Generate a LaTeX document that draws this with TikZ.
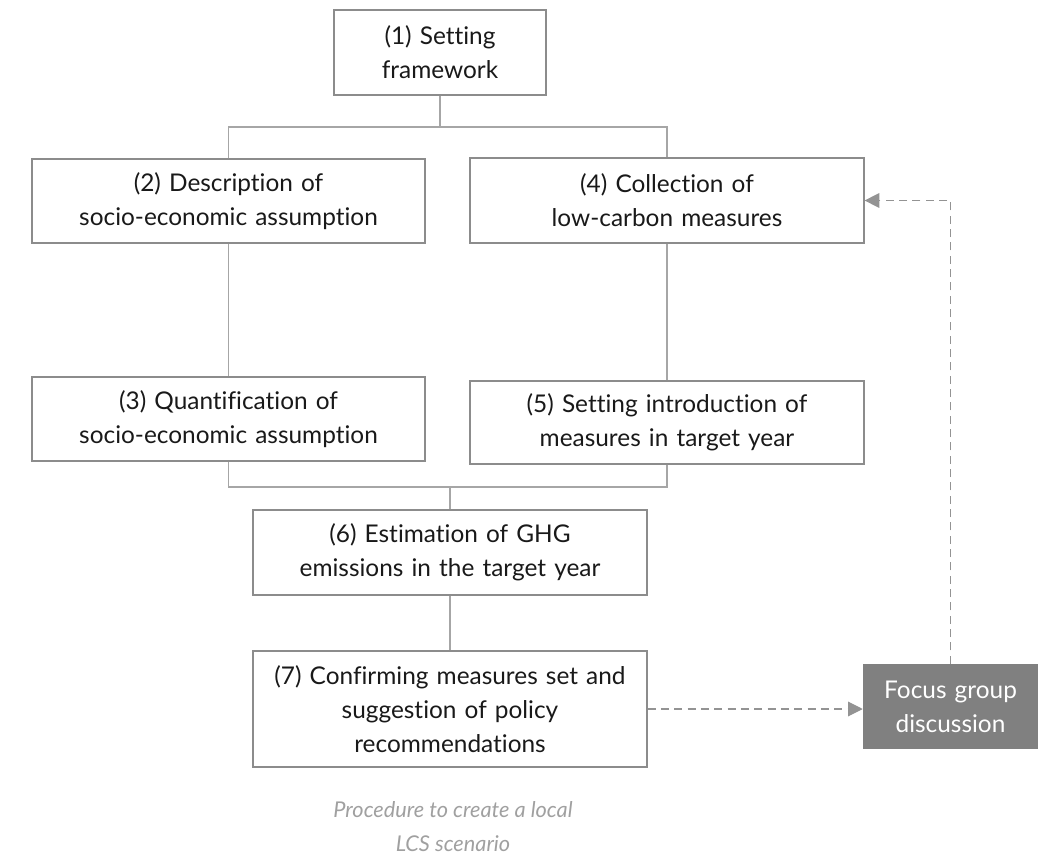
\documentclass[tikz,border=0pt]{standalone}
\usepackage{fontspec}
\setmainfont{Lato}[Ligatures=CommonOff]
\usetikzlibrary{arrows.meta,positioning}

\definecolor{edgegray}{HTML}{8C8C8C}
\definecolor{linegray}{HTML}{A6A6A6}
\definecolor{fillgray}{HTML}{808080}
\definecolor{capgray}{HTML}{A0A0A0}

\tikzset{
    stage/.style={draw=edgegray, line width=0.9pt, align=center, inner sep=0pt,
        font=\fontsize{18.3}{25.5}\selectfont, text=black!90},
    focusbox/.style={fill=fillgray, align=center, inner sep=0pt,
        font=\fontsize{18.3}{25.5}\selectfont, text=white},
    link/.style={draw=linegray, line width=0.8pt},
    feedback/.style={draw=fillgray!85, line width=0.8pt, dash pattern=on 6pt off 4pt,
        -{Triangle[length=11pt,width=11pt]}},
}

\begin{document}
\begin{tikzpicture}[x=0.75pt,y=-0.75pt]
    %\draw[step=50,help lines] (0,0) grid (1046,855);
    \useasboundingbox (0,0) rectangle (1046,855);

    \node[stage, text width=159pt, minimum height=63.75pt] (setting) at (440,52.5) {(1) Setting\\framework};
    \node[stage, text width=294.75pt, minimum height=63pt] (describe) at (228.5,201) {(2) Description of\\socio-economic assumption};
    \node[stage, text width=294.75pt, minimum height=63pt] (quantify) at (228.5,419) {(3) Quantification of\\socio-economic assumption};
    \node[stage, text width=295.5pt, minimum height=63.75pt] (collect) at (667,200.5) {(4) Collection of\\low-carbon measures};
    \node[stage, text width=295.5pt, minimum height=62.25pt] (introduce) at (667,422.5) {(5) Setting introduction of\\measures in target year};
    \node[stage, text width=295.5pt, minimum height=63.75pt] (estimate) at (450,552.5) {(6) Estimation of GHG\\emissions in the target year};
    \node[stage, text width=295.5pt, minimum height=87pt] (confirm) at (450,709) {(7) Confirming measures set and\\suggestion of policy\\recommendations};
    \node[focusbox, text width=131.25pt, minimum height=63.75pt] (focus) at (950.5,706.5) {Focus group\\discussion};

    \node[font=\fontsize{16.3}{25.5}\selectfont\itshape, text=capgray, align=center] (caption) at (453,827) {Procedure to create a local\\LCS scenario};

    \coordinate (topbus) at (440,127);
    \coordinate (lowbus) at (450,487);

    \draw[link] (setting.south) -- (topbus);
    \draw[link] (describe.north) |- (topbus);
    \draw[link] (collect.north) |- (topbus);
    \draw[link] (describe.south) -- (quantify.north);
    \draw[link] (collect.south) -- (introduce.north);
    \draw[link] (quantify.south) |- (lowbus);
    \draw[link] (introduce.south) |- (lowbus);
    \draw[link] (lowbus) -- (estimate.north);
    \draw[link] (estimate.south) -- (confirm.north);

    \draw[feedback] (confirm.east) -- (confirm.east -| focus.west);
    \draw[feedback] (focus.north) |- (collect.east);

\end{tikzpicture}
\end{document}
